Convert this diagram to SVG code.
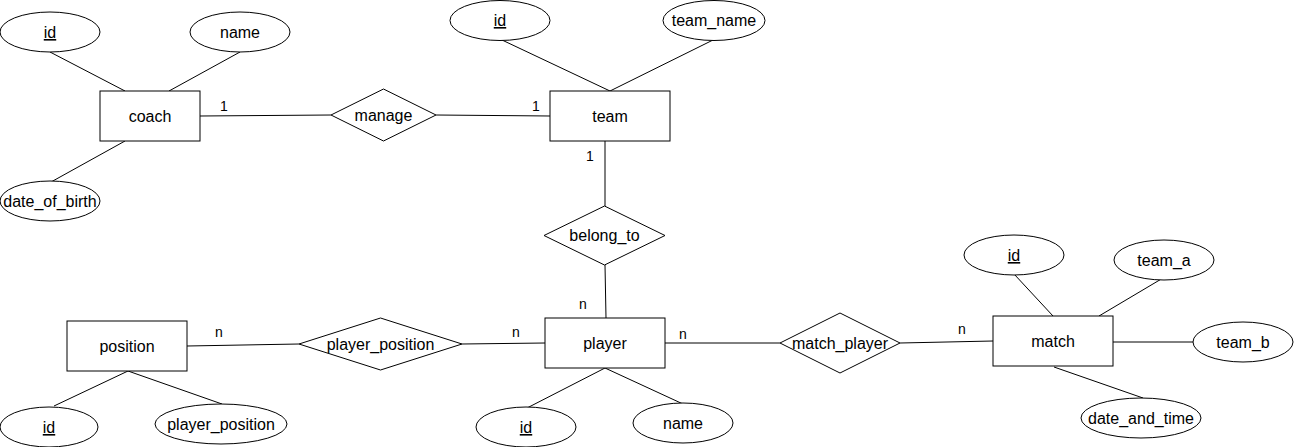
<svg xmlns="http://www.w3.org/2000/svg" width="1294" height="447" viewBox="0 0 1294 447">
<style>
.s{fill:#fff;stroke:#000;stroke-width:1}
.t{font-family:"Liberation Sans",Arial,sans-serif;font-size:16px;fill:#000;text-anchor:middle}
.c{font-family:"Liberation Sans",Arial,sans-serif;font-size:14px;fill:#000;text-anchor:middle}
.u{text-decoration:underline}
#connectors line{stroke:#000;stroke-width:1}
</style>
<rect width="1294" height="447" fill="#fff"/>
<g id="connectors">
<line x1="50" y1="52" x2="125" y2="91"/>
<line x1="240" y1="52" x2="169" y2="91"/>
<line x1="125" y1="141" x2="51" y2="182"/>
<line x1="200" y1="116" x2="331" y2="115"/>
<line x1="436" y1="115" x2="550" y2="116"/>
<line x1="502" y1="40" x2="610" y2="91"/>
<line x1="713" y1="40" x2="610" y2="91"/>
<line x1="605" y1="141" x2="605" y2="206"/>
<line x1="605" y1="265" x2="606" y2="318"/>
<line x1="187" y1="346" x2="299" y2="344"/>
<line x1="462" y1="344" x2="545" y2="343"/>
<line x1="128" y1="371" x2="54" y2="406"/>
<line x1="128" y1="371" x2="222" y2="404"/>
<line x1="605" y1="368" x2="527" y2="408"/>
<line x1="605" y1="368" x2="683" y2="404"/>
<line x1="665" y1="343" x2="780" y2="343"/>
<line x1="900" y1="343" x2="993" y2="341"/>
<line x1="1014" y1="274" x2="1053" y2="316"/>
<line x1="1163" y1="278" x2="1099" y2="316"/>
<line x1="1113" y1="342" x2="1194" y2="342"/>
<line x1="1054" y1="367" x2="1143" y2="398"/>
<text class="c" x="224" y="111">1</text>
<text class="c" x="536" y="111">1</text>
<text class="c" x="590" y="161">1</text>
<text class="c" x="583" y="309">n</text>
<text class="c" x="219" y="337">n</text>
<text class="c" x="516" y="337">n</text>
<text class="c" x="683" y="339">n</text>
<text class="c" x="962" y="334">n</text>
</g>
<g id="coach"><rect class="s" x="100" y="91" width="100" height="50"/><text class="t" x="150" y="122">coach</text></g>
<g id="coach_id"><ellipse class="s" cx="50" cy="32" rx="50" ry="20"/><text class="t u" x="50" y="38">id</text></g>
<g id="coach_name"><ellipse class="s" cx="240" cy="32" rx="50" ry="20"/><text class="t" x="240" y="38">name</text></g>
<g id="coach_dob"><ellipse class="s" cx="50" cy="201" rx="50" ry="20"/><text class="t" x="50" y="207">date_of_birth</text></g>
<g id="manage"><polygon class="s" points="331,115 383.5,89 436,115 383.5,141"/><text class="t" x="383.5" y="121">manage</text></g>
<g id="team"><rect class="s" x="550" y="91" width="120" height="50"/><text class="t" x="610" y="122">team</text></g>
<g id="team_id"><ellipse class="s" cx="500" cy="20.5" rx="50" ry="20"/><text class="t u" x="500" y="26">id</text></g>
<g id="team_name"><ellipse class="s" cx="714" cy="20.5" rx="51" ry="20"/><text class="t" x="714" y="26">team_name</text></g>
<g id="belong_to"><polygon class="s" points="544,235.5 604.5,206 665,235.5 604.5,265"/><text class="t" x="604.5" y="241">belong_to</text></g>
<g id="position"><rect class="s" x="67" y="321" width="120" height="50"/><text class="t" x="127" y="352">position</text></g>
<g id="position_id"><ellipse class="s" cx="49" cy="427" rx="49" ry="20"/><text class="t u" x="49" y="433">id</text></g>
<g id="position_player_position"><ellipse class="s" cx="221" cy="424" rx="66" ry="20"/><text class="t" x="221" y="430">player_position</text></g>
<g id="player_position"><polygon class="s" points="299,344 380.5,318 462,344 380.5,370"/><text class="t" x="380.5" y="350">player_position</text></g>
<g id="player"><rect class="s" x="545" y="318" width="120" height="50"/><text class="t" x="605" y="349">player</text></g>
<g id="player_id"><ellipse class="s" cx="526" cy="427" rx="50" ry="20"/><text class="t u" x="526" y="433">id</text></g>
<g id="player_name"><ellipse class="s" cx="683" cy="423" rx="50" ry="20"/><text class="t" x="683" y="429">name</text></g>
<g id="match_player"><polygon class="s" points="780,343 840,313 900,343 840,373"/><text class="t" x="840" y="349">match_player</text></g>
<g id="match"><rect class="s" x="993" y="316" width="120" height="50"/><text class="t" x="1053" y="347">match</text></g>
<g id="match_id"><ellipse class="s" cx="1014" cy="255" rx="50" ry="20"/><text class="t u" x="1014" y="261">id</text></g>
<g id="match_team_a"><ellipse class="s" cx="1164" cy="260" rx="50" ry="20"/><text class="t" x="1164" y="266">team_a</text></g>
<g id="match_team_b"><ellipse class="s" cx="1243" cy="342" rx="50" ry="20"/><text class="t" x="1243" y="348">team_b</text></g>
<g id="match_date_and_time"><ellipse class="s" cx="1141" cy="418" rx="60" ry="20"/><text class="t" x="1141" y="424">date_and_time</text></g>
</svg>
